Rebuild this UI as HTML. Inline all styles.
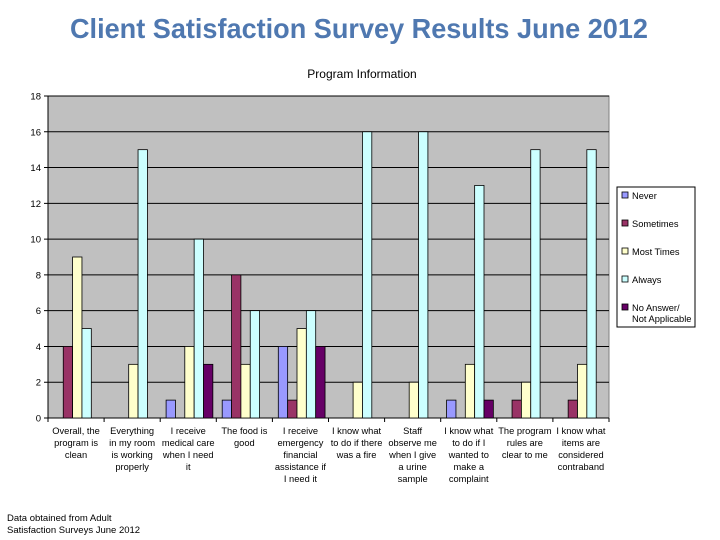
<!DOCTYPE html>
<html><head><meta charset="utf-8"><style>
body{margin:0;background:#fff;width:720px;height:540px;overflow:hidden}
svg{display:block;font-family:"Liberation Sans",Arial,sans-serif}
</style></head><body>
<svg id="chart" width="720" height="540">
<text x="359" y="38" text-anchor="middle" font-size="28" font-weight="bold" fill="#4F78B0" textLength="578" lengthAdjust="spacingAndGlyphs">Client Satisfaction Survey Results June 2012</text>
<text x="362" y="78" text-anchor="middle" font-size="12" fill="#000">Program Information</text>
<g id="plot"></g>
<g id="legend"></g>
<text x="7" y="521" font-size="9.5" fill="#000">Data obtained from Adult</text>
<text x="7" y="533" font-size="9.5" fill="#000">Satisfaction Surveys June 2012</text>
</svg>
<script>
const categories=[["Overall, the","program is","clean"],["Everything","in my room","is working","properly"],["I receive","medical care","when I need","it"],["The food is","good"],["I receive","emergency","financial","assistance if","I need it"],["I know what","to do if there","was a fire"],["Staff","observe me","when I give","a urine","sample"],["I know what","to do if I","wanted to","make a","complaint"],["The program","rules are","clear to me"],["I know what","items are","considered","contraband"]];
const seriesNames=["Never","Sometimes","Most Times","Always","No Answer/ Not Applicable"];
const never=[0,0,1,1,4,0,0,1,0,0];
const sometimes=[4,0,0,8,1,0,0,0,1,1];
const mostTimes=[9,3,4,3,5,2,2,3,2,3];
const always=[5,15,10,6,6,16,16,13,15,15];
const noAnswer=[0,0,3,0,4,0,0,1,0,0];
const yTicks=[0,2,4,6,8,10,12,14,16,18];
const series=[never,sometimes,mostTimes,always,noAnswer];
const colors=["#9999FF","#993366","#FFFFCC","#CCFFFF","#660066"];
const NS="http://www.w3.org/2000/svg";
const L=48,R=609,T=96,B=418,yMax=18;
const y=v=>B-(v/yMax)*(B-T);
const gw=(R-L)/categories.length;
const bw=9.35;
const x=(c,s)=>L+c*gw+5.9+s*bw;
function mk(tag,attrs,parent){const e=document.createElementNS(NS,tag);for(const k in attrs)e.setAttribute(k,attrs[k]);parent.appendChild(e);return e;}
const plot=document.getElementById('plot');
const bg=mk('rect',{x:L,y:T,width:R-L,height:B-T,fill:'#C0C0C0',stroke:'#808080'},plot);


yTicks.forEach(t=>{
  const ln=mk('line',{x1:L-4,x2:t===0?L:R,y1:y(t),y2:y(t),stroke:'#000','stroke-width':1},plot);
  
  
  const tx=mk('text',{x:L-7,y:y(t)+3.5,'text-anchor':'end','font-size':9.5},plot);
  tx.textContent=t;
  
  
});
mk('line',{x1:L,x2:L,y1:T,y2:B,stroke:'#000'},plot);
mk('line',{x1:L,x2:R,y1:B,y2:B,stroke:'#000'},plot);
categories.forEach((cat,c)=>{
  const tk=mk('line',{x1:L+c*gw,x2:L+c*gw,y1:B,y2:B+4,stroke:'#000'},plot);
  
  
  if(c===categories.length-1)mk('line',{x1:R,x2:R,y1:B,y2:B+4,stroke:'#000'},plot);
  series.forEach((arr,s)=>{
    const v=arr[c];if(!v)return;
    const r=mk('rect',{x:x(c,s),y:y(v),width:bw,height:B-y(v),fill:colors[s],stroke:'#000','stroke-width':0.8},plot);
    
    
  });
  const t=mk('text',{'text-anchor':'middle','font-size':9.3},plot);
  
  
  cat.forEach((line,i)=>{const sp=mk('tspan',{x:L+c*gw+gw/2,y:434+i*12},t);sp.textContent=line;});
});
const lg=document.getElementById('legend');
mk('rect',{x:617,y:187,width:78,height:140,fill:'#fff',stroke:'#000'},lg);
const ly=[196,224,252,280,308];
seriesNames.forEach((n,i)=>{
  const sw=mk('rect',{x:622,y:ly[i]-4,width:6,height:6,fill:colors[i],stroke:'#000','stroke-width':0.8},lg);
  
  
  const t=mk('text',{x:632,y:ly[i]+3,'font-size':9.3},lg);
  
  
  if(i===4){const a=mk('tspan',{x:632,y:ly[i]+3},t);a.textContent="No Answer/";const b=mk('tspan',{x:632,y:ly[i]+14},t);b.textContent="Not Applicable";}
  else t.textContent=n;
});
</script>
</body></html>
